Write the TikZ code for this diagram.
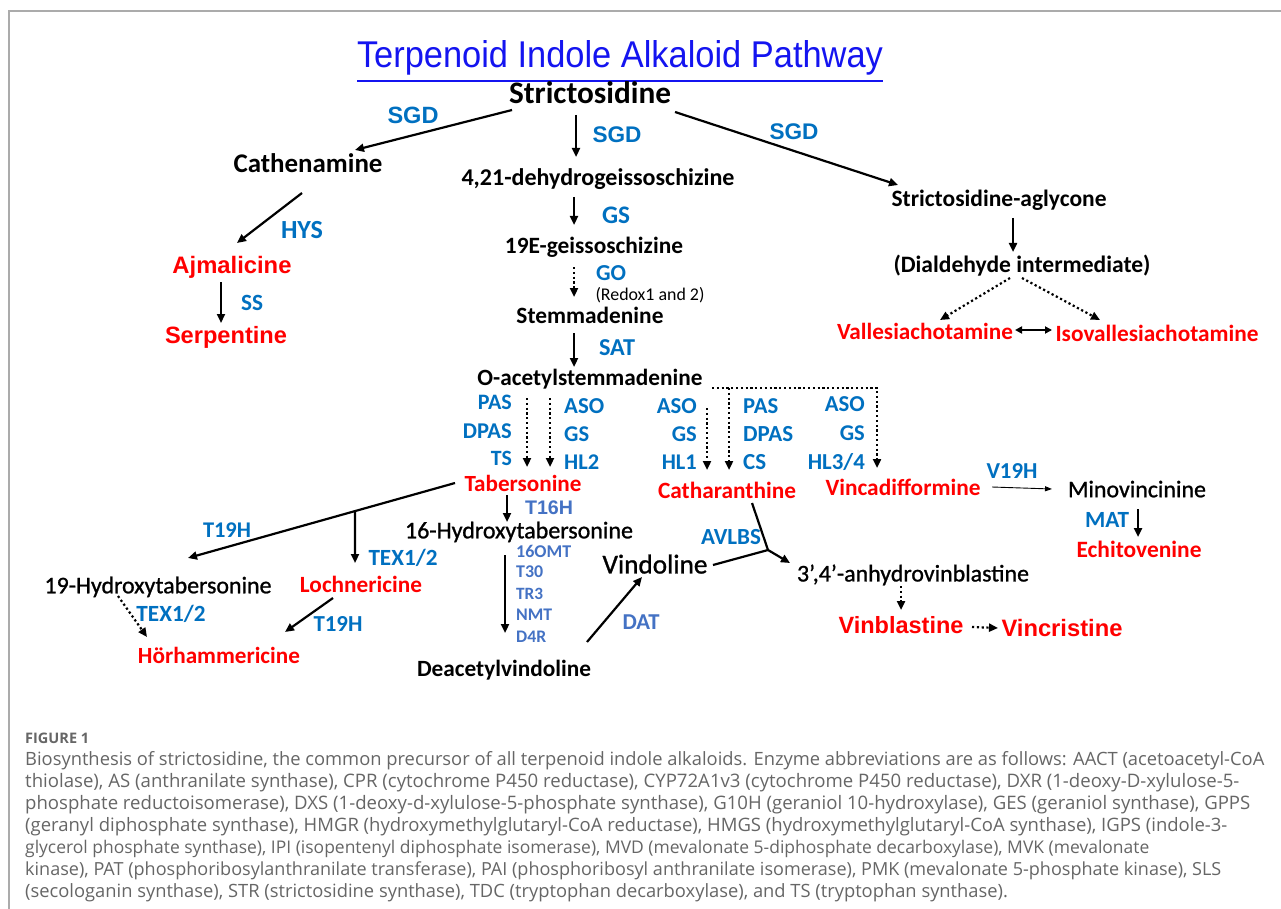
\documentclass[tikz,border=0pt]{standalone}
\usepackage{fontspec}
\setmainfont{Carlito}
\newfontfamily\arialf{Liberation Sans}
\newfontfamily\capf{Open Sans}
\newfontfamily\medf[FakeBold=1.0]{Carlito}
\usetikzlibrary{arrows.meta,calc}
\definecolor{eblue}{HTML}{0070C0}
\definecolor{eblueb}{HTML}{4472C4}
\definecolor{ired}{HTML}{FF0000}
\definecolor{tblue}{HTML}{1414F0}
\definecolor{capgray}{HTML}{666666}
\definecolor{framegray}{HTML}{ABABAB}
\newcommand{\fitto}[2]{\resizebox{#1pt}{!}{#2}}
\newlength\capw
\tikzset{
  lbl/.style={inner sep=0pt, text depth=0pt, font=\bfseries},
  cmp/.style={lbl, text=black},
  prod/.style={lbl, text=ired},
  enz/.style={lbl, text=eblue},
  enzb/.style={lbl, text=eblueb},
  arialb/.style={font=\arialf\bfseries},
  regw/.style={font=\medf},
  capline/.style={inner sep=0pt, anchor=west, text=capgray, font=\capf},
  arr/.style={line width=2.2pt, -{Triangle[length=9pt,width=8pt]}},
  dotarr/.style={line width=2.2pt, dash pattern=on 2.2pt off 2.6pt, -{Triangle[length=9pt,width=8pt]}},
  thinarr/.style={line width=0.9pt, -{Triangle[length=7pt,width=5pt]}},
  plainline/.style={line width=2.2pt},
  dblarr/.style={line width=2.2pt, {Triangle[length=7pt,width=7pt]}-{Triangle[length=7pt,width=7pt]}},
}
\begin{document}
\settowidth{\capw}{\capf\fontsize{10}{12}\selectfont Biosynthesis of strictosidine, the common precursor of all terpenoid indole alkaloids. Enzyme abbreviations are as follows: AACT (acetoacetyl-CoA}%
\pgfmathsetmacro{\capfac}{1239/\capw}%
\begin{tikzpicture}[x=1pt,y=-1pt]
\useasboundingbox (0,0) rectangle (1281,909);
\fill[white] (0,0) rectangle (1281,909);
% frame
\draw[framegray, line width=1.6pt] (9,909) -- (9,11) -- (1281,11);

% title
\node[inner sep=0pt, anchor=base, text=tblue, font=\arialf] (title) at (620,68) {\resizebox{526pt}{27pt}{\underline{Terpenoid Indole Alkaloid Pathway}}};

% compounds
\node[cmp] (strict) at (590,93) {\fitto{162}{Strictosidine}};
\node[cmp] (cathen) at (308,163) {\fitto{149}{Cathenamine}};
\node[cmp] (d421) at (598,177) {\fitto{273}{4,21-dehydrogeissoschizine}};
\node[cmp] (geiss) at (594,245) {\fitto{178}{19E-geissoschizine}};
\node[cmp,font=\mdseries] (redox) at (650,294) {\fitto{109}{(Redox1 and 2)}};
\node[cmp] (stemm) at (590,315) {\fitto{147}{Stemmadenine}};
\node[cmp] (oacet) at (590,377) {\fitto{225}{O-acetylstemmadenine}};
\node[cmp] (aglyc) at (999,198) {\fitto{215}{Strictosidine-aglycone}};
\node[cmp] (dial) at (1022,264) {\fitto{257}{(Dialdehyde intermediate)}};
\node[prod] (valle) at (925,331) {\fitto{176}{Vallesiachotamine}};
\node[prod] (isoval) at (1157,333) {\fitto{203}{Isovallesiachotamine}};
\node[prod,arialb] (ajmal) at (232,265) {\fitto{119}{Ajmalicine}};
\node[prod,arialb] (serp) at (226,335) {\fitto{122}{Serpentine}};
\node[prod] (taber) at (523,483) {\fitto{117}{Tabersonine}};
\node[cmp,regw] (hyd16) at (519,530) {\fitto{228}{16-Hydroxytabersonine}};
\node[cmp,regw] (hyd19) at (158,585) {\fitto{227}{19-Hydroxytabersonine}};
\node[prod] (lochn) at (361,584) {\fitto{122}{Lochnericine}};
\node[prod] (horh) at (219,655) {\fitto{162}{Hörhammericine}};
\node[cmp] (deacet) at (504,668) {\fitto{174}{Deacetylvindoline}};
\node[cmp,regw] (vindo) at (655,564) {\fitto{105}{Vindoline}};
\node[prod] (cathar) at (727,490) {\fitto{138}{Catharanthine}};
\node[cmp,regw] (anhyd) at (913,573) {\fitto{232}{3’,4’-anhydrovinblastine}};
\node[prod] (vincad) at (903,487) {\fitto{155}{Vincadifformine}};
\node[cmp,regw] (minov) at (1137,489) {\fitto{138}{Minovincinine}};
\node[prod] (echit) at (1139,549) {\fitto{125}{Echitovenine}};
\node[prod,arialb] (vinbl) at (901,625) {\fitto{125}{Vinblastine}};
\node[prod,arialb] (vincr) at (1062,628) {\fitto{121}{Vincristine}};

% enzymes
\node[enz,arialb] (sgd1) at (413,115) {\fitto{51}{SGD}};
\node[enz,arialb] (sgd2) at (617,135) {\fitto{49}{SGD}};
\node[enz,arialb] (sgd3) at (794,132) {\fitto{49}{SGD}};
\node[enz] (hys) at (302,230) {\fitto{42}{HYS}};
\node[enz] (ss) at (252,303) {\fitto{22}{SS}};
\node[enz] (gs1) at (616,215) {\fitto{28}{GS}};
\node[enz] (go) at (611,273) {\fitto{30}{GO}};
\node[enz] (sat) at (617,348) {\fitto{36}{SAT}};
\node[enz,anchor=east] (pas1) at (512,402) {\fitto{34}{PAS}};
\node[enz,anchor=east] (dpas1) at (512,431) {\fitto{49}{DPAS}};
\node[enz,anchor=east] (ts1) at (512,458) {\fitto{21}{TS}};
\node[enz,anchor=west] (aso1) at (564,406) {\fitto{40}{ASO}};
\node[enz,anchor=west] (gs2) at (564,434) {\fitto{25}{GS}};
\node[enz,anchor=west] (hl2) at (564,462) {\fitto{35}{HL2}};
\node[enz,anchor=east] (aso2) at (697,406) {\fitto{40}{ASO}};
\node[enz,anchor=east] (gs3) at (697,434) {\fitto{25}{GS}};
\node[enz,anchor=east] (hl1) at (697,462) {\fitto{35}{HL1}};
\node[enz,anchor=west] (pas2) at (743,406) {\fitto{35}{PAS}};
\node[enz,anchor=west] (dpas2) at (743,434) {\fitto{50}{DPAS}};
\node[enz,anchor=west] (cs) at (743,462) {\fitto{23}{CS}};
\node[enz,anchor=east] (aso3) at (865,404) {\fitto{40}{ASO}};
\node[enz,anchor=east] (gs4) at (865,433) {\fitto{25}{GS}};
\node[enz,anchor=east] (hl34) at (865,461) {\fitto{57}{HL3/4}};
\node[enzb,arialb] (t16h) at (549,508) {\fitto{48}{T16H}};
\node[enzb,anchor=west] (omt) at (516,551) {\fitto{55}{16OMT}};
\node[enzb,anchor=west] (t30) at (516,572) {\fitto{27}{T30}};
\node[enzb,anchor=west] (tr3) at (516,594) {\fitto{27}{TR3}};
\node[enzb,anchor=west] (nmt) at (516,615) {\fitto{36}{NMT}};
\node[enzb,anchor=west] (d4r) at (516,637) {\fitto{30}{D4R}};
\node[enzb] (dat) at (641,622) {\fitto{37}{DAT}};
\node[enz] (avlbs) at (731,537) {\fitto{60}{AVLBS}};
\node[enz] (t19ha) at (227,530) {\fitto{48}{T19H}};
\node[enz] (tex1) at (403,557) {\fitto{69}{TEX1/2}};
\node[enz] (tex2) at (171,613) {\fitto{69}{TEX1/2}};
\node[enz] (t19hb) at (338,624) {\fitto{49}{T19H}};
\node[enz] (v19h) at (1012,471) {\fitto{51}{V19H}};
\node[enz] (mat) at (1107,520) {\fitto{44}{MAT}};

% connectors
\draw[arr] ($(strict)+(-78,17)$) -- ($(cathen)+(47,-13)$);
\draw[arr] ($(strict)+(-14,22)$) -- ($(d421)+(-22,-20)$);
\draw[arr] ($(strict)+(85,19)$) -- ($(aglyc)+(-101,-13)$);
\draw[arr] ($(cathen)+(-6,30)$) -- ($(ajmal)+(5,-22)$);
\draw[arr] ($(ajmal)+(-11,17)$) -- ($(serp)+(-5,-12)$);
\draw[arr] ($(d421)+(-24,20)$) -- ($(geiss)+(-20,-20)$);
\draw[dotarr] ($(geiss)+(-20,22)$) -- ($(stemm)+(-16,-18)$);
\draw[arr] ($(stemm)+(-16,18)$) -- ($(oacet)+(-16,-10)$);
\draw[arr] ($(aglyc)+(14,20)$) -- ($(dial)+(-9,-12)$);
\draw[dotarr] ($(dial)+(-12,14)$) -- ($(valle)+(15,-11)$);
\draw[dotarr] ($(dial)+(0,14)$) -- ($(isoval)+(-57,-13)$);
\draw[dblarr] ($(valle)+(90,-1)$) -- ($(isoval)+(-105,-3)$);
\draw[dotarr] ($(oacet)+(-63,21)$) -- ($(taber)+(4,-16)$);
\draw[dotarr] ($(oacet)+(-40,21)$) -- ($(taber)+(27,-16)$);
\draw[dotarr] ($(oacet)+(117,31)$) -- ($(cathar)+(-20,-20)$);
\draw[dotarr] ($(oacet)+(139,11)$) -- ($(cathar)+(2,-20)$);
\draw[dotarr] ($(oacet)+(122,11)$) -| ($(vincad)+(-26,-19)$);
\coordinate (ta1) at ($(taber)+(-68,0)$);
\coordinate (ta2) at ($(hyd19)+(30,-27)$);
\coordinate (br) at ($(ta1)!0.3745!(ta2)$);
\draw[arr] (ta1) -- (ta2);
\draw[arr] (br) -- ($(lochn)+(-6,-21)$);
\draw[arr] ($(taber)+(-16,12)$) -- ($(hyd16)+(-12,-8)$);
\draw[dotarr] ($(hyd19)+(-40,11)$) -- ($(horh)+(-72,-18)$);
\draw[arr] ($(lochn)+(-28,14)$) -- ($(horh)+(66,-23)$);
\draw[arr] ($(hyd16)+(-14,25)$) -- ($(deacet)+(1,-35)$);
\draw[arr] ($(deacet)+(83,-26)$) -- ($(vindo)+(-13,13)$);
\coordinate (jn) at (768,550);
\draw[plainline] ($(vindo)+(58,1)$) -- (jn);
\draw[plainline] ($(cathar)+(25,13)$) -- (jn);
\draw[arr] (jn) -- ($(anhyd)+(-123,-10)$);
\draw[dotarr] ($(anhyd)+(-12,13)$) -- ($(vinbl)+(0,-15)$);
\draw[dotarr] ($(vinbl)+(71,2)$) -- ($(vincr)+(-64,0)$);
\draw[thinarr] ($(vincad)+(89,0)$) -- ($(minov)+(-85,0)$);
\draw[arr] ($(minov)+(1,20)$) -- ($(echit)+(-1,-12)$);

% caption
\node[capline, font=\capf\bfseries] (figlbl) at (25,738) {\fitto{64}{FIGURE 1}};
\node[capline] (cap1) at (25,761) {\fitto{1239}{Biosynthesis of strictosidine, the common precursor of all terpenoid indole alkaloids. Enzyme abbreviations are as follows: AACT (acetoacetyl-CoA}};
\node[capline] (cap2) at (25,783) {\fitto{1214}{thiolase), AS (anthranilate synthase), CPR (cytochrome P450 reductase), CYP72A1v3 (cytochrome P450 reductase), DXR (1-deoxy-D-xylulose-5-}};
\node[capline] (cap3) at (25,805) {\fitto{1225}{phosphate reductoisomerase), DXS (1-deoxy-d-xylulose-5-phosphate synthase), G10H (geraniol 10-hydroxylase), GES (geraniol synthase), GPPS}};
\node[capline] (cap4) at (25,827) {\fitto{1202}{(geranyl diphosphate synthase), HMGR (hydroxymethylglutaryl-CoA reductase), HMGS (hydroxymethylglutaryl-CoA synthase), IGPS (indole-3-}};
\node[capline] (cap5) at (25,849) {\fitto{1124}{glycerol phosphate synthase), IPI (isopentenyl diphosphate isomerase), MVD (mevalonate 5-diphosphate decarboxylase), MVK (mevalonate}};
\node[capline] (cap6) at (25,871) {\fitto{1196}{kinase), PAT (phosphoribosylanthranilate transferase), PAI (phosphoribosyl anthranilate isomerase), PMK (mevalonate 5-phosphate kinase), SLS}};
\node[capline] (cap7) at (25,893) {\scalebox{\capfac}{\fontsize{10}{12}\selectfont (secologanin synthase), STR (strictosidine synthase), TDC (tryptophan decarboxylase), and TS (tryptophan synthase).}};
\end{tikzpicture}
\end{document}
